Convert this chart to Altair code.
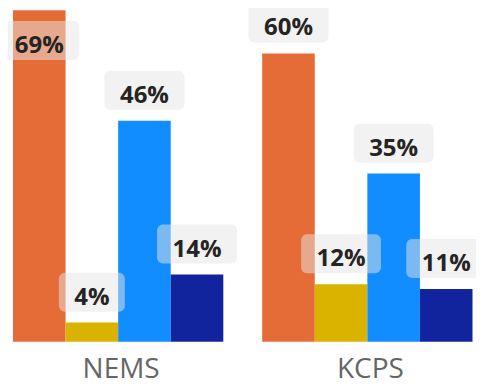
import altair as alt
import pandas as pd

# ---- data ----
groups = ["NEMS", "KCPS"]
series = ["Series 1", "Series 2", "Series 3", "Series 4"]
colors = ["#E66C37", "#D9B300", "#118DFF", "#12239E"]
nems_values = [69, 4, 46, 14]
kcps_values = [60, 12, 35, 11]

rows = []
for g, vals in zip(groups, [nems_values, kcps_values]):
    for s, v in zip(series, vals):
        rows.append({"group": g, "series": s, "value": v})
df = pd.DataFrame(rows)

Y_MAX = 69.4
FONT = "Open Sans"


def box_path(half_w, cy, half_h=0.4875, r=0.15):
    """Rounded rectangle path in symbol units (1 unit = 40 px at size 6400)."""
    t, b = cy - half_h, cy + half_h
    l, rt = -half_w, half_w
    return (
        f"M{l + r},{t} L{rt - r},{t} A{r},{r} 0 0 1 {rt},{t + r} "
        f"L{rt},{b - r} A{r},{r} 0 0 1 {rt - r},{b} "
        f"L{l + r},{b} A{r},{r} 0 0 1 {l},{b - r} "
        f"L{l},{t + r} A{r},{r} 0 0 1 {l + r},{t} Z"
    )


kinds = ["above-wide", "above-narrow", "inside-wide", "inside-narrow"]
shapes = [
    box_path(1.0, -0.7625),
    box_path(0.825, -0.7625),
    box_path(1.0, 0.7625),
    box_path(0.825, 0.7625),
]

base = alt.Chart(df).transform_calculate(
    label="format(datum.value, 'd') + '%'",
    inside="datum.value > 65",
    kind="(datum.value > 65 ? 'inside' : 'above') + '-' + (datum.value < 10 ? 'narrow' : 'wide')",
)

x_enc = alt.X(
    "group:N",
    sort=groups,
    scale=alt.Scale(paddingInner=0.156, paddingOuter=0.014),
    axis=alt.Axis(
        title=None,
        labelAngle=0,
        labelFontSize=28,
        labelFont=FONT,
        labelColor="#666666",
        labelPadding=14,
        labelOffset=3,
        domain=False,
        ticks=False,
    ),
)
xoff_enc = alt.XOffset("series:N", sort=series, scale=alt.Scale(paddingInner=0, paddingOuter=0))
y_enc = alt.Y("value:Q", scale=alt.Scale(domain=[0, Y_MAX], nice=False, zero=True), axis=None)

bars = base.mark_bar().encode(
    x=x_enc,
    xOffset=xoff_enc,
    y=y_enc,
    color=alt.Color("series:N", scale=alt.Scale(domain=series, range=colors), legend=None),
)

boxes = base.mark_point(
    filled=True, size=6400, fill="#E6E6E6", fillOpacity=0.5, strokeWidth=0, opacity=1
).encode(
    x=x_enc,
    xOffset=xoff_enc,
    y=y_enc,
    shape=alt.Shape("kind:N", scale=alt.Scale(domain=kinds, range=shapes), legend=None),
)

text_style = dict(baseline="alphabetic", fontSize=24, fontWeight="bold", font=FONT, color="#252423")

text_above = base.transform_filter("!datum.inside").mark_text(dy=-18, **text_style).encode(
    x=x_enc, xOffset=xoff_enc, y=y_enc, text="label:N"
)
text_inside = base.transform_filter("datum.inside").mark_text(dy=43, **text_style).encode(
    x=x_enc, xOffset=xoff_enc, y=y_enc, text="label:N"
)

chart = (
    alt.layer(bars, boxes, text_above, text_inside)
    .properties(
        width=467,
        height=334,
        autosize="none",
        padding={"left": 1.5, "top": 0, "right": 0, "bottom": 46},
    )
    .configure_view(stroke=None)
)

chart.save("out.html", embed_options={"renderer": "svg", "actions": False})
